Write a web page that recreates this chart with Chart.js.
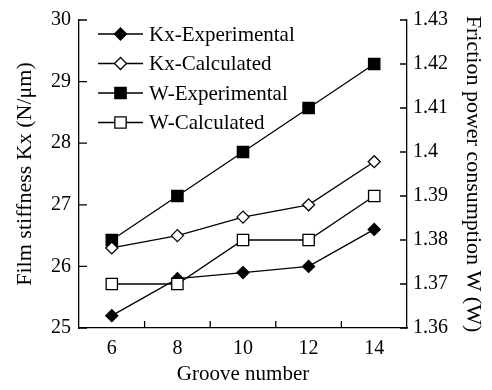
<!DOCTYPE html>
<html>
<head>
<meta charset="utf-8">
<script src="https://cdn.jsdelivr.net/npm/chart.js@4/dist/chart.umd.min.js"></script>
<style>
  html, body { margin: 0; padding: 0; background: #fff; }
  #wrap { width: 492px; height: 390px; }
</style>
</head>
<body>
<div id="wrap"><canvas id="chart"></canvas></div>
<script>
const grooves = [6, 8, 10, 12, 14];

// film stiffness, N/um (left axis)
const kxExperimental = [25.2, 25.8, 25.9, 26.0, 26.6];
const kxCalculated = [26.3, 26.5, 26.8, 27.0, 27.7];

// friction power consumption, W (right axis)
const wExperimental = [1.38, 1.39, 1.40, 1.41, 1.42];
const wCalculated = [1.37, 1.37, 1.38, 1.38, 1.39];

const seriesLabels = ['Kx-Experimental', 'Kx-Calculated', 'W-Experimental', 'W-Calculated'];

const FONT = 'Liberation Serif, Times New Roman, serif';
const INK = '#000';

const toPoints = (values) => values.map((v, i) => ({x: grooves[i], y: v}));

const makeSet = (label, values, axis, style, filled, order) => ({
  label,
  data: toPoints(values),
  yAxisID: axis,
  order,
  borderColor: INK,
  borderWidth: 1.3,
  tension: 0,
  pointStyle: style,
  pointRadius: style === `rect` ? 8 : 6,
  pointBackgroundColor: filled ? INK : '#fff',
  pointBorderColor: INK,
  pointBorderWidth: 1.3,
});

// tick marks drawn on the inside of the axes
const innerTicks = {
  id: `innerTicks`,
  afterDraw(chart) {
    const {ctx, chartArea: a, scales} = chart;
    ctx.save();
    ctx.strokeStyle = INK;
    ctx.lineWidth = 1.3;
    ctx.beginPath();
    scales.y.ticks.forEach((t) => {
      const p = scales.y.getPixelForValue(t.value);
      ctx.moveTo(a.left, p);
      ctx.lineTo(a.left + 8, p);
    });
    scales.y1.ticks.forEach((t) => {
      const p = scales.y1.getPixelForValue(t.value);
      ctx.moveTo(a.right, p);
      ctx.lineTo(a.right - 7, p);
    });
    scales.x.ticks.forEach((t) => {
      if (t.value % 2 === 0 || t.value <= scales.x.min || t.value >= scales.x.max) {
        return;
      }
      const p = scales.x.getPixelForValue(t.value);
      ctx.moveTo(p, a.bottom);
      ctx.lineTo(p, a.bottom - 7);
    });
    ctx.stroke();
    ctx.restore();
  }
};

const drawMarker = (ctx, style, filled, x, y) => {
  ctx.beginPath();
  if (style === `rect`) {
    const h = 8 * Math.SQRT1_2;
    ctx.rect(x - h, y - h, 2 * h, 2 * h);
  } else {
    ctx.moveTo(x, y - 6);
    ctx.lineTo(x + 6, y);
    ctx.lineTo(x, y + 6);
    ctx.lineTo(x - 6, y);
    ctx.closePath();
  }
  ctx.fillStyle = filled ? INK : '#fff';
  ctx.fill();
  ctx.stroke();
};

// legend sits inside the plot, top left
const insideLegend = {
  id: `insideLegend`,
  afterDraw(chart) {
    const {ctx} = chart;
    ctx.save();
    ctx.strokeStyle = INK;
    ctx.lineWidth = 1.3;
    ctx.font = `21px ${FONT}`;
    ctx.textBaseline = `middle`;
    chart.data.datasets.forEach((ds, i) => {
      const y = 34 + i * 29.5;
      ctx.beginPath();
      ctx.moveTo(98, y);
      ctx.lineTo(143, y);
      ctx.stroke();
      drawMarker(ctx, ds.pointStyle, ds.pointBackgroundColor === INK, 120.5, y);
      ctx.fillStyle = INK;
      ctx.fillText(ds.label, 149, y + 1);
    });
    ctx.restore();
  }
};

new Chart(document.getElementById(`chart`), {
  type: `line`,
  data: {
    datasets: [
      makeSet(seriesLabels[0], kxExperimental, `y`, `rectRot`, true, 3),
      makeSet(seriesLabels[1], kxCalculated, `y`, `rectRot`, false, 1),
      makeSet(seriesLabels[2], wExperimental, `y1`, `rect`, true, 2),
      makeSet(seriesLabels[3], wCalculated, `y1`, `rect`, false, 0),
    ]
  },
  plugins: [innerTicks, insideLegend],
  options: {
    responsive: true,
    maintainAspectRatio: false,
    animation: false,
    layout: {
      padding: {top: 15, left: 0, right: 0, bottom: 0},
    },
    plugins: {
      legend: {display: false},
      tooltip: {enabled: false},
    },
    scales: {
      x: {
        type: `linear`,
        min: 5,
        max: 15,
        afterFit: (scale) => { scale.height = 62; },
        grid: {display: false, drawTicks: false},
        border: {display: true, color: INK, width: 1.3},
        ticks: {
          stepSize: 1,
          padding: 9,
          color: INK,
          font: {family: FONT, size: 20},
          callback: (v) => (v % 2 === 0 && v > 5 && v < 15 ? String(v) : ``),
        },
        title: {
          display: true,
          text: `Groove number`,
          color: INK,
          font: {family: FONT, size: 21},
          padding: {top: 0, bottom: 3},
        },
      },
      y: {
        position: `left`,
        min: 25,
        max: 30,
        afterFit: (scale) => { scale.width = 79; },
        grid: {display: false, drawTicks: false},
        border: {display: true, color: INK, width: 1.3},
        ticks: {
          stepSize: 1,
          padding: 8,
          color: INK,
          font: {family: FONT, size: 20},
        },
        title: {
          display: true,
          text: `Film stiffness Kx (N/μm)`,
          color: INK,
          font: {family: FONT, size: 22},
          padding: {top: 12, bottom: 0},
        },
      },
      y1: {
        position: `right`,
        min: 1.36,
        max: 1.43,
        afterFit: (scale) => { scale.width = 85; },
        grid: {display: false, drawTicks: false},
        border: {display: true, color: INK, width: 1.3},
        ticks: {
          stepSize: 0.01,
          padding: 6,
          color: INK,
          font: {family: FONT, size: 20},
          callback: (v) => String(Number(v.toFixed(2))),
        },
        title: {
          display: true,
          text: `Friction power consumption W (W)`,
          color: INK,
          font: {family: FONT, size: 22},
          padding: {top: 6, bottom: 0},
        },
      },
    },
  },
});
</script>
</body>
</html>
